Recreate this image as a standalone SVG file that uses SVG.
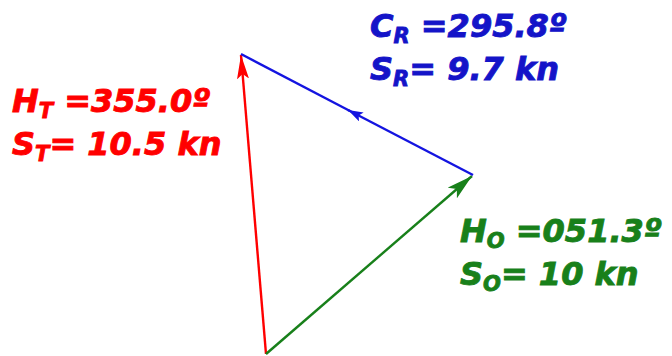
<svg xmlns="http://www.w3.org/2000/svg" width="672" height="356" viewBox="0 0 672 356">
<style>
text{font-family:"DejaVu Sans","Liberation Sans",sans-serif;font-weight:bold;font-style:italic;font-size:32px;stroke-width:0.9px}
.sub{font-size:21px}
.red{fill:#f00;stroke:#f00}.blue{fill:#1414c8;stroke:#1414c8}.green{fill:#18801a;stroke:#18801a}
.ln{fill:none;stroke-width:2.4}
</style>
<defs>
<marker id="ar" markerUnits="userSpaceOnUse" markerWidth="24" markerHeight="12" viewBox="0 0 24 12" refX="24" refY="6" orient="auto"><path d="M0,0 L24,6 L0,12 L5,6 z" fill="#f00"/></marker>
<marker id="ag" markerUnits="userSpaceOnUse" markerWidth="26" markerHeight="14" viewBox="0 0 26 14" refX="26" refY="7" orient="auto"><path d="M0,0 L26,7 L0,14 L6,7 z" fill="#18801a"/></marker>
<marker id="ab" markerUnits="userSpaceOnUse" markerWidth="15" markerHeight="10" viewBox="0 0 15 10" refX="15" refY="5" orient="auto"><path d="M0,0 L15,5 L0,10 L3,5 z" fill="#1414e0"/></marker>
</defs>
<g id="connectors">
<path class="ln" stroke="#f00" d="M266,354 L241,55" marker-end="url(#ar)"/>
<path class="ln" stroke="#18801a" d="M266,354 L472,176" marker-end="url(#ag)"/>
<path class="ln" stroke="#1414e0" stroke-width="2" d="M473,175 L348,110" marker-end="url(#ab)"/>
<path class="ln" stroke="#1414e0" stroke-width="2" d="M350,111 L241,54"/>
</g>
<g id="true-vector">
<text class="red" x="12" y="112">H<tspan class="sub" dy="6">T</tspan><tspan dy="-6"> =355.0º</tspan></text>
<text class="red" x="12" y="155">S<tspan class="sub" dy="6">T</tspan><tspan dy="-6">= 10.5 kn</tspan></text>
</g>
<g id="relative-vector">
<text class="blue" x="370" y="37">C<tspan class="sub" dy="6">R</tspan><tspan dy="-6"> =295.8º</tspan></text>
<text class="blue" x="370" y="80">S<tspan class="sub" dy="6">R</tspan><tspan dy="-6">= 9.7 kn</tspan></text>
</g>
<g id="own-vector">
<text class="green" x="460" y="242">H<tspan class="sub" dy="6">O</tspan><tspan dy="-6"> =051.3º</tspan></text>
<text class="green" x="460" y="285">S<tspan class="sub" dy="6">O</tspan><tspan dy="-6">= 10 kn</tspan></text>
</g>
</svg>
